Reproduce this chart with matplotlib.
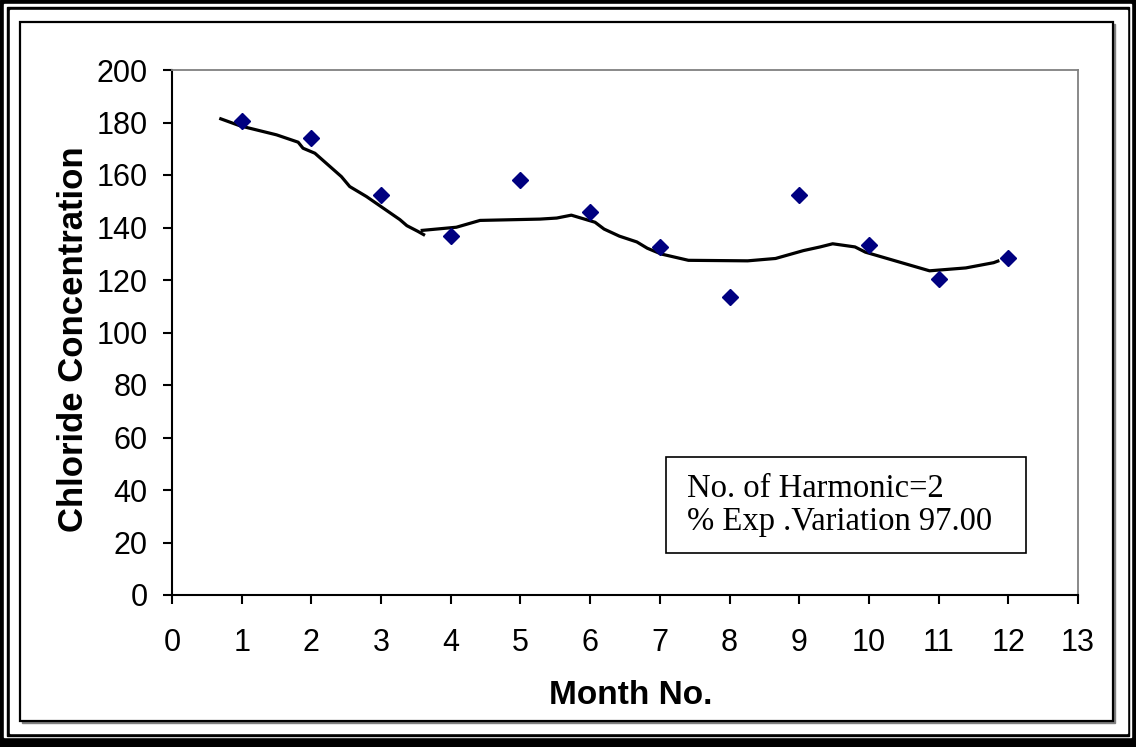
import matplotlib.pyplot as plt
from matplotlib.patches import Rectangle

# observed monthly chloride values
months = [1, 2, 3, 4, 5, 6, 7, 8, 9, 10, 11, 12]
chloride = [180.7, 174.0, 152.5, 136.6, 158.2, 146.0, 132.5, 113.5, 152.5, 133.3, 120.5, 128.3]

# fitted harmonic curve (hand traced, two pieces)
fit_x1 = [0.70, 0.98, 1.50, 1.81, 1.88, 2.05, 2.43, 2.55, 2.79, 3.27, 3.37, 3.53, 3.61]
fit_y1 = [181.4, 178.7, 175.3, 172.5, 170.2, 168.3, 159.4, 155.6, 151.8, 143.0, 140.7, 138.5, 137.3]
fit_x2 = [3.59, 4.08, 4.42, 5.28, 5.52, 5.73, 6.07, 6.20, 6.42, 6.67, 6.82, 7.02, 7.41,
          8.26, 8.66, 9.06, 9.30, 9.48, 9.80, 9.95, 10.39, 10.87, 11.39, 11.79, 11.85]
fit_y2 = [138.9, 140.1, 142.7, 143.2, 143.6, 144.7, 142.0, 139.4, 136.7, 134.5, 132.1, 129.9, 127.5,
          127.3, 128.2, 131.2, 132.6, 133.8, 132.6, 130.6, 127.2, 123.5, 124.6, 126.6, 127.2]

info_lines = ['No. of Harmonic=2', '% Exp .Variation 97.00']

W, H = 1136, 747
fig = plt.figure(figsize=(W / 100, H / 100), dpi=100)

# decorative frame drawn in pixel coordinates
bg = fig.add_axes([0, 0, 1, 1], zorder=-1)
bg.set_xlim(0, W)
bg.set_ylim(H, 0)
bg.axis('off')
bg.add_patch(Rectangle((0, 0), W, H, color='black'))
bg.add_patch(Rectangle((4, 4), 1131 - 4, 737 - 4, color='white'))
bg.add_patch(Rectangle((7, 7), 1129 - 7, 736 - 7, color='black'))
bg.add_patch(Rectangle((10, 10), 1127 - 10, 733 - 10, color='white'))
bg.add_patch(Rectangle((22, 24), 1115 - 22, 723 - 24, color='#808080'))
bg.add_patch(Rectangle((20, 22), 1113 - 20, 721 - 22, facecolor='white',
                       edgecolor='black', linewidth=1.6))

# annotation box
bg.add_patch(Rectangle((666, 457), 1026 - 666, 553 - 457, facecolor='white',
                       edgecolor='black', linewidth=1.2))
bg.text(687, 497, info_lines[0], fontsize=23.5, family='Liberation Serif', va='baseline')
bg.text(687, 530, info_lines[1], fontsize=23.5, family='Liberation Serif', va='baseline')

ax = fig.add_axes([172 / W, 1 - 595 / H, (1078 - 172) / W, (595 - 70) / H])
ax.set_facecolor('none')

ax.plot(fit_x1, fit_y1, color='black', linewidth=2.3)
ax.plot(fit_x2, fit_y2, color='black', linewidth=2.3)
ax.plot(months, chloride, linestyle='none', marker='D', markersize=8,
        color='#000080', zorder=3)

ax.set_xlim(0, 13)
ax.set_ylim(0, 200)
ax.set_xticks(range(0, 14))
ax.set_yticks(range(0, 201, 20))

for side in ['top', 'right']:
    ax.spines[side].set_color('#808080')
    ax.spines[side].set_linewidth(1.3)
for side in ['left', 'bottom']:
    ax.spines[side].set_color('black')
    ax.spines[side].set_linewidth(1.5)

ax.tick_params(direction='out', length=6.5, width=1.5, labelsize=22)
ax.tick_params(axis='x', pad=17)
ax.tick_params(axis='y', pad=11)
for lbl in ax.get_xticklabels() + ax.get_yticklabels():
    lbl.set_family('Liberation Sans')

ax.set_xlabel('Month No.', fontsize=24, fontweight='bold', family='Liberation Sans')
ax.set_ylabel('Chloride Concentration', fontsize=25, fontweight='bold', family='Liberation Sans')
ax.xaxis.set_label_coords((631 - 172) / (1078 - 172), -(695 - 595) / (595 - 70))
ax.yaxis.set_label_coords(-(172 - 74) / (1078 - 172), (595 - 339) / (595 - 70))
ax.xaxis.label.set_va('center')
ax.yaxis.label.set_va('center')

fig.savefig('out.png', dpi=100)
